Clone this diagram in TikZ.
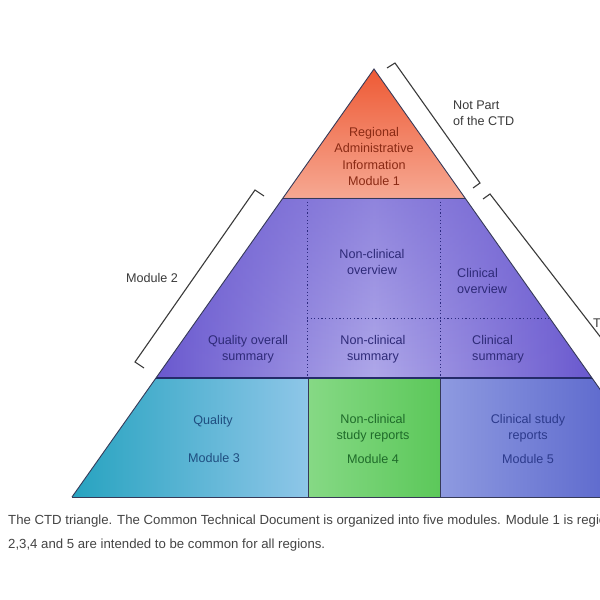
\documentclass[tikz,border=0pt]{standalone}
\usepackage{fontspec}
\setmainfont{Liberation Sans}
\usetikzlibrary{fadings}
\definecolor{m1top}{HTML}{EE5A35}
\definecolor{m1bot}{HTML}{F6A892}
\definecolor{m2dark}{HTML}{6A59CF}
\definecolor{m2light}{HTML}{AFA8E9}
\definecolor{m3l}{HTML}{27A3C0}
\definecolor{m3r}{HTML}{8EC6E8}
\definecolor{m4l}{HTML}{86D985}
\definecolor{m4r}{HTML}{5CC85A}
\definecolor{m5l}{HTML}{8E9AE0}
\definecolor{m5r}{HTML}{4B57C6}
\definecolor{edgec}{HTML}{363A58}
\definecolor{navy}{HTML}{252B6A}
\definecolor{dotc}{HTML}{2C2A80}
\definecolor{t1c}{HTML}{8A2A14}
\definecolor{t2c}{HTML}{2E2A78}
\definecolor{t3c}{HTML}{1F4E80}
\definecolor{t4c}{HTML}{1F6B2A}
\definecolor{t5c}{HTML}{2C3A8C}
\definecolor{outc}{HTML}{3A3A3A}
\definecolor{capc}{HTML}{444444}
\begin{document}
\begin{tikzpicture}[x=1pt,y=-1pt,
  edge/.style={draw=edgec,line width=0.9pt},
  dotline/.style={draw=dotc,line width=1pt,dash pattern=on 1.2pt off 2.4pt},
  lbl/.style={inner sep=0pt,align=center,font=\fontsize{12.6}{16.2}\selectfont},
  bracket/.style={draw=outc,line width=1.1pt},
  captext/.style={inner sep=0pt,anchor=west,text=capc,font=\fontsize{13.2}{15}\selectfont}]
\useasboundingbox (0,0) rectangle (600,600);
\clip (0,0) rectangle (600,600);
\fill[white] (0,0) rectangle (600,600);
% geometry
\coordinate (A) at (374,69);
\coordinate (L1) at (283,198); \coordinate (R1) at (465,198);
\coordinate (L2) at (156,378); \coordinate (R2) at (592,378);
\coordinate (L3) at (72,497);  \coordinate (R3) at (676,497);
\coordinate (B1) at (308,378); \coordinate (B2) at (440,378);
\coordinate (C1) at (308,497); \coordinate (C2) at (440,497);
\coordinate (D1) at (307,198); \coordinate (D2) at (440,198);
\coordinate (E1) at (307,378); \coordinate (E2) at (440,378);
\coordinate (H1) at (307,318); \coordinate (H2) at (549.7,318);
% module 1
\shade[top color=m1top,bottom color=m1bot] (A) -- (R1) -- (L1) -- cycle;
% module 2
\shade[left color=m2dark,right color=m2dark,middle color=m2light] (L1) -- (R1) -- (R2) -- (L2) -- cycle;
\fill[m2dark,opacity=0.45,path fading=south] (L1) -- (R1) -- (R2) -- (L2) -- cycle;
% module 3,4,5
\shade[left color=m3l,right color=m3r] (L2) -- (B1) -- (C1) -- (L3) -- cycle;
\shade[left color=m4l,right color=m4r] (B1) rectangle (C2);
\shade[left color=m5l,right color=m5r] (B2) -- (R2) -- (R3) -- (C2) -- cycle;
% dotted divisions
\draw[dotline] (D1) -- (E1);
\draw[dotline] (D2) -- (E2);
\draw[dotline] (H1) -- (H2);
% lines
\draw[edge] (L1) -- (R1);
\draw[edge] (B1) -- (C1);
\draw[edge] (B2) -- (C2);
\draw[edge] (L3) -- (R3);
\draw[draw=navy,line width=1.6pt] (L2) -- (R2);
\draw[edge] (L3) -- (A) -- (R3);
% brackets
\draw[bracket] (387,68) -- (395,63) -- (480,183) -- (473,188);
\draw[bracket] (264,196) -- (255,190) -- (135,362) -- (144,368);
\draw[bracket] (483,199) -- (490,194) -- (612,352);
% texts
\node[lbl,text=t1c] (t1) at (374,156.5) {Regional\\Administrative\\Information\\Module 1};
\node[lbl,text=t2c] (t2a) at (372,262) {Non-clinical\\overview};
\node[lbl,text=t2c,align=left,anchor=west] (t2b) at (457,281) {Clinical\\overview};
\node[lbl,text=t2c] (t2c) at (248,349) {Quality overall\\summary};
\node[lbl,text=t2c] (t2d) at (373,349) {Non-clinical\\summary};
\node[lbl,text=t2c,align=left,anchor=west] (t2e) at (472,349) {Clinical\\summary};
\node[lbl,text=t3c] (t3a) at (213,421) {Quality};
\node[lbl,text=t3c] (t3b) at (214,458) {Module 3};
\node[lbl,text=t4c] (t4a) at (373,428) {Non-clinical\\study reports};
\node[lbl,text=t4c] (t4b) at (373,459) {Module 4};
\node[lbl,text=t5c] (t5a) at (528,428) {Clinical study\\reports};
\node[lbl,text=t5c] (t5b) at (528,459) {Module 5};
\node[lbl,text=outc] (m2) at (152,278) {Module 2};
\node[lbl,text=outc,align=left,anchor=west] (np) at (453,113) {Not Part\\of the CTD};
\node[lbl,text=outc,anchor=west] (tt) at (593,323) {T};
\node[captext] (cap1) at (8,521) {The CTD triangle. The Common Technical Document is organized into five modules. Module 1 is regio};
\node[captext] (cap2) at (8,545) {2,3,4 and 5 are intended to be common for all regions.};
\end{tikzpicture}
\end{document}
